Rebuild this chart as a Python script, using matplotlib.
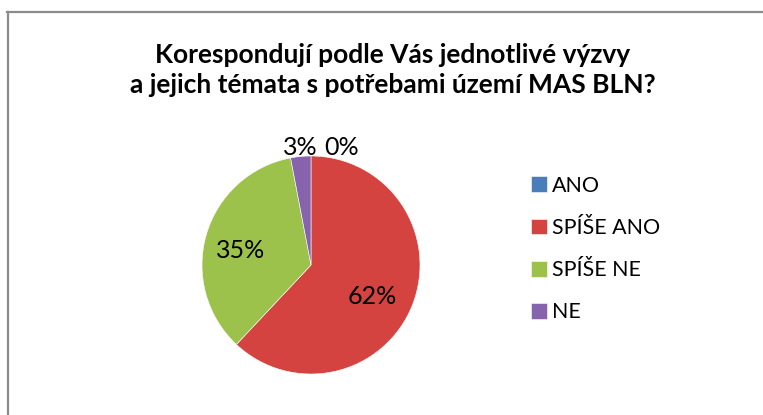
import numpy as np
import matplotlib.pyplot as plt

# chart data
categories = ['ANO', 'SPÍŠE ANO', 'SPÍŠE NE', 'NE']
shares = [0, 62, 35, 3]
colors = ['#4A7EBB', '#D4433F', '#9CC24C', '#8762AD']
title = 'Korespondují podle Vás jednotlivé výzvy\na jejich témata s potřebami území MAS BLN?'

plt.rcParams['font.family'] = ['Lato', 'DejaVu Sans']

W, H = 763, 415
fig = plt.figure(figsize=(W / 100, H / 100), dpi=100)

# frame of the chart area (only top and left edges visible)
fig.add_artist(plt.Line2D([7 / W, 1], [1 - 12.5 / H, 1 - 12.5 / H], color='#8c8c8c', lw=1.6))
fig.add_artist(plt.Line2D([7.5 / W, 7.5 / W], [0, 1 - 12 / H], color='#8c8c8c', lw=1.6))

fig.text(393 / W, 1 - 70 / H, title, ha='center', va='center', fontsize=19,
         fontweight='bold', linespacing=1.28)

# pie axes: centre (311, 265) px, radius 109 px
cx, cy, r = 311, 265, 109
ax = fig.add_axes([(cx - r) / W, (H - cy - r) / H, 2 * r / W, 2 * r / H])
wedges, _ = ax.pie(shares, colors=colors, startangle=90, counterclock=False,
                   radius=1, wedgeprops=dict(edgecolor='#ffffff', linewidth=0.4))
ax.set_xlim(-1, 1)
ax.set_ylim(-1, 1)
ax.set_aspect('auto')

for w, v in zip(wedges, shares):
    mid = np.deg2rad((w.theta1 + w.theta2) / 2)
    if v >= 5:
        d = 0.64
        ax.text(d * np.cos(mid) - 0.03, d * np.sin(mid) - 0.05, f'{v}%', ha='center', va='center', fontsize=18)
    elif v > 0:
        d = 1.08
        ax.text(d * np.cos(mid), d * np.sin(mid), f'{v}%', ha='center', va='center', fontsize=18)
    else:
        ax.text(0.12, 1.08, f'{v}%', ha='left', va='center', fontsize=18)

leg = fig.legend(wedges, categories, loc='upper left', bbox_to_anchor=(520 / W, 1 - 165 / H),
                 frameon=False, fontsize=15.4, labelspacing=1.04, handlelength=0.75,
                 handleheight=0.75, handletextpad=0.25, borderpad=0)

fig.savefig('out.png', dpi=100)
